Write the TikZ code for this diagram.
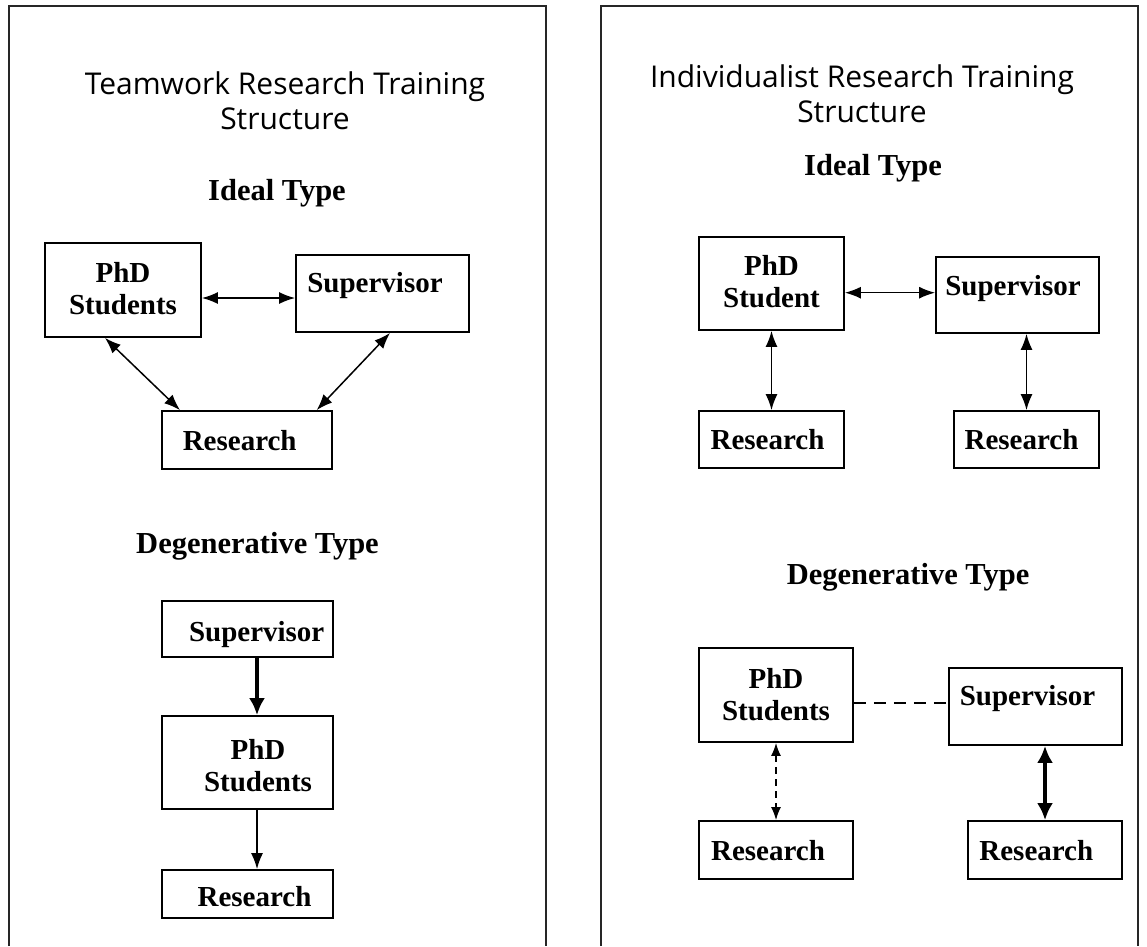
\documentclass[tikz,border=0pt]{standalone}
\usepackage{fontspec}
\newfontfamily\boxfont{Liberation Serif}
\newfontfamily\titlefont{Open Sans}
\usetikzlibrary{arrows.meta,calc}
\begin{document}
\begin{tikzpicture}[x=1pt,y=-1pt,
  frame/.style={line width=1.5pt, draw=black!85},
  box/.style={draw, line width=1.8pt, rectangle, inner sep=0pt},
  lbl/.style={font=\boxfont\bfseries\fontsize{29}{32}\selectfont, align=center, inner sep=0pt},
  ttl/.style={font=\titlefont\fontsize{30}{35}\selectfont, align=center, inner sep=0pt},
  hd/.style={font=\boxfont\bfseries\fontsize{30.5}{34}\selectfont, inner sep=0pt, anchor=base},
  thin/.style={line width=1.5pt},
  tip/.tip={Latex[length=16pt,width=12pt]},
  bigtip/.tip={Latex[length=17pt,width=16pt]},
  dbl/.style={thin, tip-tip},
  one/.style={thin, -tip},
  heavy/.style={line width=4.8pt, -bigtip},
  heavydbl/.style={line width=4.8pt, bigtip-bigtip},
  dashline/.style={line width=1.6pt, dash pattern=on 12pt off 8pt},
  dashdbl/.style={line width=1.5pt, dash pattern=on 7pt off 5pt, {Latex[length=13pt,width=10pt]}-{Latex[length=13pt,width=10pt]}}
]
\useasboundingbox (0,0) rectangle (1147,946);
\fill[white] (0,0) rectangle (1147,946);

% frames (open at the bottom)
\draw[frame] (9,946) |- (546,6) -- (546,946);
\draw[frame] (601,946) |- (1138,6) -- (1138,946);

% ---------- left panel ----------
\node[ttl] (tl) at (285,101) {Teamwork Research Training\\Structure};
\node[hd] (hl1) at (277,200) {Ideal Type};

\node[box, minimum width=156, minimum height=94,
  label={[lbl, yshift=1]center:PhD\\Students}] (lphd) at (123,290) {};
\node[box, minimum width=173, minimum height=77,
  label={[lbl, xshift=-7.5, yshift=7.5]center:Supervisor}] (lsup) at (382.5,293.5) {};
\node[box, minimum width=170, minimum height=58,
  label={[lbl, xshift=-7.3, yshift=-1]center:Research}] (lres) at (247,440) {};

\draw[dbl] ([yshift=-8]lphd.east) -- ([yshift=-8]lphd.east -| lsup.west);
\draw[dbl] ([xshift=-18]lphd.south) -- ([xshift=-67]lres.north);
\draw[dbl] ([xshift=69.7]lres.north) -- ([xshift=7.5]lsup.south);

\node[hd] (hl2) at (257.5,553) {Degenerative Type};

\node[box, minimum width=171, minimum height=56,
  label={[lbl, xshift=9.2, yshift=-6]center:Supervisor}] (lsup2) at (247.5,629) {};
\node[box, minimum width=171, minimum height=93,
  label={[lbl, xshift=10.5, yshift=-3.5]center:PhD\\Students}] (lphd2) at (247.5,762.5) {};
\node[box, minimum width=171, minimum height=48,
  label={[lbl, xshift=7, yshift=-3]center:Research}] (lres2) at (247.5,894) {};

\draw[heavy] ([xshift=9.5]lsup2.south) -- ([xshift=9.5]lphd2.north);
\draw[one] ([xshift=9.5]lphd2.south) -- ([xshift=9.5]lres2.north);

% ---------- right panel ----------
\node[ttl] (tr) at (862,94) {Individualist Research Training\\Structure};
\node[hd] (hr1) at (873,175) {Ideal Type};

\node[box, minimum width=145, minimum height=93,
  label={[lbl, yshift=2]center:PhD\\Student}] (rphd) at (771.5,283.5) {};
\node[box, minimum width=163, minimum height=76,
  label={[lbl, xshift=-4.5, yshift=6.7]center:Supervisor}] (rsup) at (1017.5,295) {};
\node[box, minimum width=145, minimum height=57,
  label={[lbl, xshift=-4]center:Research}] (rres1) at (771.5,439.5) {};
\node[box, minimum width=145, minimum height=57,
  label={[lbl, xshift=-5]center:Research}] (rres2) at (1026.5,439.5) {};

\draw[dbl] ([yshift=-9.2]rphd.east) -- ([yshift=-9.2]rphd.east -| rsup.west);
\draw[dbl] (rphd.south) -- (rres1.north);
\draw[dbl] (rsup.south -| rres2.north) -- (rres2.north);

\node[hd] (hr2) at (908,584) {Degenerative Type};

\node[box, minimum width=154, minimum height=94,
  label={[lbl]center:PhD\\Students}] (rphd2) at (776,695) {};
\node[box, minimum width=173, minimum height=77,
  label={[lbl, xshift=-8, yshift=8]center:Supervisor}] (rsup2) at (1035.5,706.5) {};
\node[box, minimum width=154, minimum height=58,
  label={[lbl, xshift=-8, yshift=-0.7]center:Research}] (rres3) at (776,850) {};
\node[box, minimum width=154, minimum height=58,
  label={[lbl, xshift=-8.7, yshift=-0.7]center:Research}] (rres4) at (1045,850) {};

\draw[dashline] ([yshift=-7.7]rphd2.east) -- ([yshift=-7.7]rphd2.east -| rsup2.west);
\draw[dashdbl] (rphd2.south) -- (rres3.north);
\draw[heavydbl] (rsup2.south -| rres4.north) -- (rres4.north);
\end{tikzpicture}
\end{document}
